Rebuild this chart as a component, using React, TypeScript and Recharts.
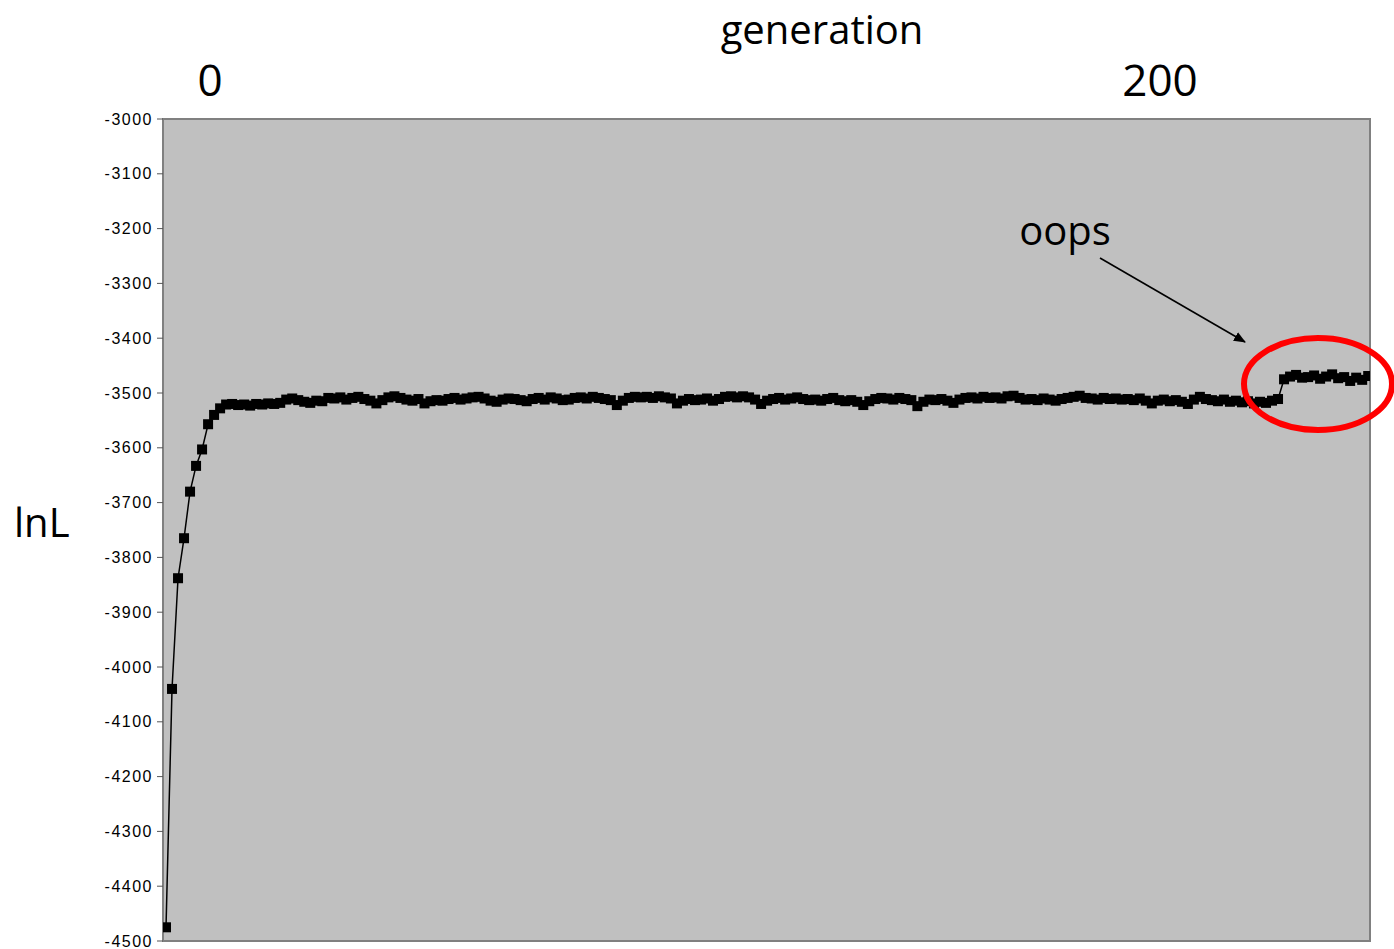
import {
  LineChart,
  Line,
  XAxis,
  YAxis,
  ReferenceArea,
} from "recharts";

// lnL per sampled generation (index 0..200)
const lnL = [
  -4475, -4040, -3838, -3765, -3680, -3633, -3603, -3557, -3540, -3528,
  -3521, -3520, -3522, -3521, -3523, -3520, -3521, -3519, -3520, -3518,
  -3512, -3510, -3513, -3516, -3518, -3514, -3515, -3509, -3510, -3508,
  -3512, -3509, -3507, -3511, -3514, -3519, -3513, -3508, -3506, -3509,
  -3512, -3514, -3511, -3519, -3515, -3513, -3514, -3511, -3509, -3512,
  -3510, -3508, -3507, -3510, -3514, -3516, -3512, -3510, -3511, -3513,
  -3515, -3511, -3509, -3512, -3508, -3510, -3513, -3512, -3509, -3508,
  -3510, -3507, -3509, -3511, -3513, -3522, -3514, -3509, -3507, -3508,
  -3507, -3509, -3506, -3508, -3510, -3519, -3514, -3511, -3513, -3512,
  -3510, -3514, -3511, -3507, -3506, -3508, -3506, -3508, -3512, -3520,
  -3514, -3511, -3509, -3512, -3510, -3508, -3511, -3513, -3512, -3514,
  -3511, -3509, -3513, -3515, -3513, -3516, -3522, -3515, -3511, -3509,
  -3510, -3512, -3509, -3511, -3513, -3524, -3516, -3512, -3513, -3511,
  -3514, -3518, -3512, -3509, -3508, -3510, -3507, -3509, -3508, -3510,
  -3506, -3505, -3509, -3512, -3511, -3513, -3510, -3512, -3514, -3511,
  -3509, -3507, -3505, -3509, -3510, -3512, -3509, -3511, -3510, -3512,
  -3511, -3513, -3510, -3514, -3519, -3514, -3512, -3515, -3513, -3516,
  -3520, -3512, -3507, -3511, -3513, -3515, -3512, -3516, -3514, -3517,
  -3515, -3519, -3516, -3518, -3514, -3511, -3475, -3470, -3467, -3472,
  -3471, -3468, -3474, -3470, -3466, -3473, -3471, -3478, -3472, -3476,
  -3469,
];

const yTicks = [
  -4500, -4400, -4300, -4200, -4100, -4000, -3900, -3800, -3700, -3600,
  -3500, -3400, -3300, -3200, -3100, -3000,
];

const data = lnL.map((v, i) => ({ step: i, lnL: v }));

const font = "'Open Sans', 'Noto Sans', sans-serif";

const SquareDot = (props: any) => {
  const { cx, cy, index } = props;
  if (cx == null || cy == null) return null;
  return <rect key={`d${index}`} x={cx - 5} y={cy - 5} width={10} height={10} fill="#000" />;
};

export default function App() {
  return (
    <div style={{ position: "absolute", left: 0, top: 0, width: 1394, height: 949, background: "#fff" }}>
      <LineChart
        width={1394}
        height={949}
        data={data}
        margin={{ top: 119, right: 24, bottom: 8, left: 0 }}
      >
        <XAxis
          xAxisId="idx"
          dataKey="step"
          type="number"
          domain={[-0.5, 200.3]}
          allowDataOverflow
          hide
        />
        <YAxis
          type="number"
          domain={[-4500, -3000]}
          ticks={yTicks}
          interval={0}
          width={163}
          axisLine={{ stroke: "#808080", strokeWidth: 2 }}
          tickLine={{ stroke: "#555" }}
          tickSize={6}
          tickMargin={4}
          tick={{ fontSize: 16, fill: "#000", fontFamily: "'Liberation Sans', Arial, sans-serif", letterSpacing: 1.5 }}
        />
        <ReferenceArea
          xAxisId="idx"
          x1={-0.5}
          x2={200.3}
          y1={-4500}
          y2={-3000}
          fill="#c0c0c0"
          fillOpacity={1}
          stroke="#808080"
          strokeWidth={2}
        />
        <Line
          xAxisId="idx"
          dataKey="lnL"
          type="linear"
          stroke="#000"
          strokeWidth={1.5}
          dot={SquareDot}
          activeDot={false}
          isAnimationActive={false}
        />
      </LineChart>
      <svg
        width={1394}
        height={949}
        style={{ position: "absolute", left: 0, top: 0, pointerEvents: "none" }}
      >
        <defs>
          <marker id="arrowhead" markerWidth="12" markerHeight="10" refX="11" refY="5" orient="auto" markerUnits="userSpaceOnUse">
            <path d="M0,0 L12,5 L0,10 Z" fill="#000" />
          </marker>
        </defs>
        <text x={822} y={44} textAnchor="middle" fontSize={40} fontFamily={font} fill="#000">
          generation
        </text>
        <text x={210} y={96} textAnchor="middle" fontSize={44} fontFamily={font} fill="#000">
          0
        </text>
        <text x={1160} y={96} textAnchor="middle" fontSize={44} fontFamily={font} fill="#000">
          200
        </text>
        <text x={14} y={537} fontSize={40} fontFamily={font} fill="#000">
          lnL
        </text>
        <text x={1065} y={245} textAnchor="middle" fontSize={40} fontFamily={font} fill="#000">
          oops
        </text>
        <line x1={1100} y1={258} x2={1245} y2={342} stroke="#000" strokeWidth={1.6} markerEnd="url(#arrowhead)" />
        <ellipse cx={1318} cy={384} rx={74} ry={46} fill="none" stroke="#f00" strokeWidth={6} />
      </svg>
    </div>
  );
}
